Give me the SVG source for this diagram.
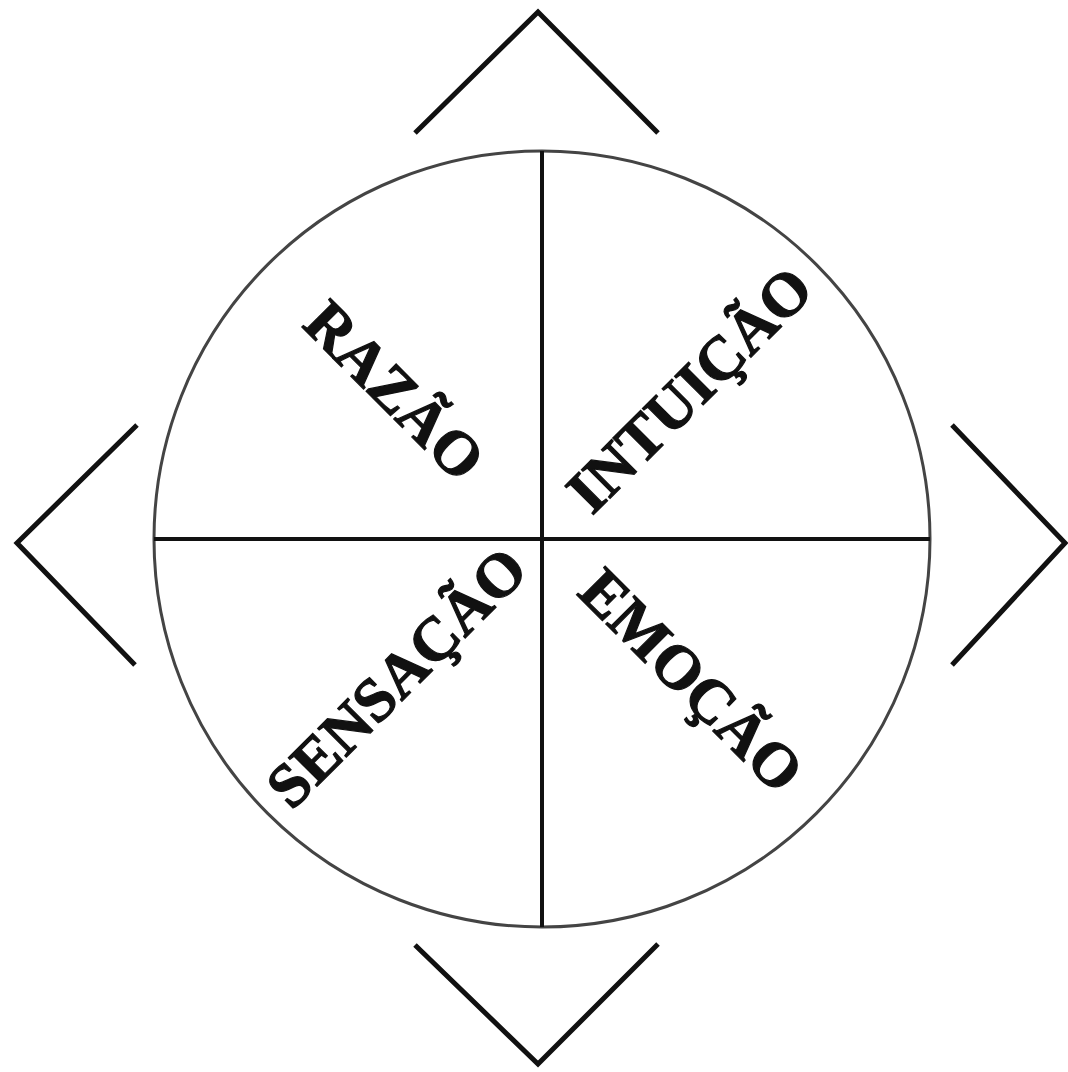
<svg xmlns="http://www.w3.org/2000/svg" width="1068" height="1072" viewBox="0 0 1068 1072">
<style>
.chev{fill:none;stroke:#111;stroke-width:5;stroke-linecap:butt;stroke-linejoin:miter}
.axis{stroke:#111;stroke-width:4}
.ring{fill:none;stroke:#444;stroke-width:3}
.lbl{font-family:"Liberation Serif","DejaVu Serif",serif;font-weight:bold;font-size:62px;fill:#111;stroke:#111;stroke-width:1.2;text-anchor:middle}
</style>
<rect width="1068" height="1072" fill="#fff"/>
<g id="circle"><circle class="ring" cx="542" cy="539" r="388"/></g>
<g id="connectors">
<line class="axis" x1="542" y1="151" x2="542" y2="927"/>
<line class="axis" x1="154" y1="539" x2="930" y2="539"/>
<polyline class="chev" points="415,133 538,12 658,133"/>
<polyline class="chev" points="415,945 538,1064 658,944"/>
<polyline class="chev" points="137,425 17,543 135,665"/>
<polyline class="chev" points="952,425 1065,543 952,665"/>
</g>
<g id="razao"><text class="lbl" transform="translate(394,391) rotate(45)" y="20">RAZÃO</text></g>
<g id="intuicao"><text class="lbl" transform="translate(690,390) rotate(-45)" y="20">INTUIÇÃO</text></g>
<g id="sensacao"><text class="lbl" transform="translate(397,678) rotate(-45)" y="20">SENSAÇÃO</text></g>
<g id="emocao"><text class="lbl" transform="translate(691,681) rotate(45)" y="20">EMOÇÃO</text></g>
</svg>
